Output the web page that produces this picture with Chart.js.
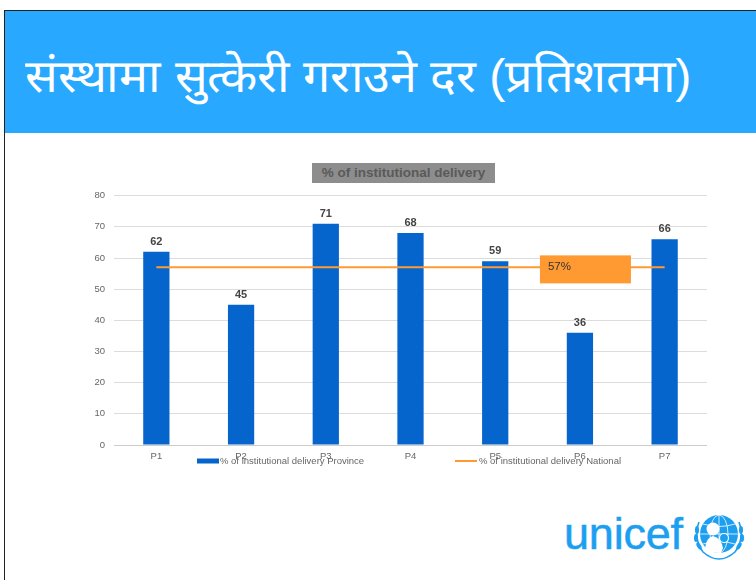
<!DOCTYPE html>
<html>
<head>
<meta charset="utf-8">
<script src="https://cdn.jsdelivr.net/npm/chart.js@4.4.1/dist/chart.umd.min.js"></script>
<style>
  html, body { margin:0; padding:0; background:#fff; width:756px; height:580px; overflow:hidden; font-family:"Liberation Sans", Arial, sans-serif; }
  #frame { position:absolute; left:4px; top:10px; width:800px; height:620px; border:1px solid #222; box-sizing:border-box; }
  #header { position:absolute; left:5px; top:11px; width:760px; height:122px; background:#29a8ff; }
  #htitle { position:absolute; left:20px; top:38px; color:#fff; font-size:46px; white-space:nowrap; line-height:1.2; transform-origin:0 0; transform:scaleX(1.055); }
  #ctitle { position:absolute; left:312px; top:163px; width:183px; height:20px; background:#8d8d8d; color:#5a5a5a; font-weight:bold; font-size:13.5px; line-height:20px; text-align:center; }
  #wrap { position:absolute; left:70px; top:181px; width:637px; height:294px; }
  #logo { position:absolute; left:564px; top:508px; color:#1c9ff0; font-size:45px; font-family:"Liberation Sans", Arial, sans-serif; letter-spacing:-0.2px; -webkit-text-stroke:0.5px #1c9ff0; }
  #emblem { position:absolute; left:691px; top:512px; }
</style>
</head>
<body>
<div id="frame"></div>
<div id="header"><div id="htitle">संस्थामा सुत्केरी गराउने दर (प्रतिशतमा)</div></div>
<div id="ctitle">% of institutional delivery</div>
<div id="wrap"><canvas id="c"></canvas></div>
<div id="logo">unicef</div>
<svg id="emblem" width="56" height="50" viewBox="0 0 56 50">
  <g fill="none" stroke="#1c9ff0" stroke-width="1.6">
    <path d="M8 10 Q2 26 12 40 Q20 47 28 47"/>
    <path d="M48 10 Q54 26 44 40 Q36 47 28 47"/>
  </g>
  <g fill="#1c9ff0">
    <ellipse cx="6" cy="18" rx="2" ry="4"/><ellipse cx="5" cy="26" rx="2" ry="4"/><ellipse cx="8" cy="34" rx="2" ry="4" transform="rotate(-30 8 34)"/>
    <ellipse cx="50" cy="18" rx="2" ry="4"/><ellipse cx="51" cy="26" rx="2" ry="4"/><ellipse cx="48" cy="34" rx="2" ry="4" transform="rotate(30 48 34)"/>
  </g>
  <circle cx="28" cy="22" r="19" fill="#1c9ff0"/>
  <g fill="none" stroke="#fff" stroke-width="0.8">
    <ellipse cx="28" cy="22" rx="9" ry="19"/><line x1="9" y1="22" x2="47" y2="22"/><line x1="28" y1="3" x2="28" y2="41"/>
    <path d="M12 12 Q28 17 44 12"/><path d="M12 32 Q28 27 44 32"/>
  </g>
  <circle cx="22" cy="17" r="6.5" fill="#fff"/>
  <path d="M14 40 Q14 26 22 24 Q30 26 32 36 L30 41 Z" fill="#fff"/>
  <circle cx="33" cy="26" r="4.5" fill="#1c9ff0" stroke="#fff" stroke-width="1.2"/>
</svg>
<script>
const categories = ["P1","P2","P3","P4","P5","P6","P7"];
const provinceValues = [62, 45, 71, 68, 59, 36, 66];
const nationalValues = [57, 57, 57, 57, 57, 57, 57];
const yTicks = [0,10,20,30,40,50,60,70,80];
const seriesLabels = ["% of institutional delivery Province", "% of institutional delivery National"];
const nationalLabel = "57%";
const nationalLabelIndex = 5;

const BLUE = "#0565cc";
const ORANGE = "#ff9a33";

const labelsPlugin = {
  id: "labelsPlugin",
  afterDatasetsDraw(chart) {
    const ctx = chart.ctx;
    const meta0 = chart.getDatasetMeta(1);
    ctx.save();
    ctx.font = "bold 11px 'Liberation Sans', Arial, sans-serif";
    ctx.fillStyle = "#444";
    ctx.textAlign = "center";
    ctx.textBaseline = "alphabetic";
    meta0.data.forEach((bar, i) => {
      ctx.fillText(String(provinceValues[i]), bar.x, bar.y - 7);
    });
    const lm = chart.getDatasetMeta(0);
    const pt = lm.data[nationalLabelIndex];
    const bx = pt.x - 40, by = pt.y - 12, bw = 91, bh = 28;
    ctx.fillStyle = ORANGE;
    ctx.fillRect(bx, by, bw, bh);
    ctx.fillStyle = "#333";
    ctx.font = "11.5px 'Liberation Sans', Arial, sans-serif";
    ctx.textAlign = "left";
    ctx.textBaseline = "middle";
    ctx.fillText(nationalLabel, bx + 8, pt.y - 1);
    ctx.restore();
  },
  afterDraw(chart) {
    const ctx = chart.ctx;
    const ca = chart.chartArea;
    const y = ca.bottom + 16;
    ctx.save();
    ctx.font = "9.5px 'Liberation Sans', Arial, sans-serif";
    ctx.textBaseline = "middle";
    ctx.textAlign = "left";
    const x1 = ca.left + 83;
    ctx.fillStyle = BLUE;
    ctx.fillRect(x1, y - 2.5, 22, 5);
    ctx.fillStyle = "#666";
    ctx.fillText(seriesLabels[0], x1 + 23, y);
    const x2 = ca.left + 341;
    ctx.strokeStyle = ORANGE;
    ctx.lineWidth = 2;
    ctx.beginPath(); ctx.moveTo(x2, y); ctx.lineTo(x2 + 22, y); ctx.stroke();
    ctx.fillText(seriesLabels[1], x2 + 24, y);
    ctx.restore();
  }
};

new Chart(document.getElementById("c"), {
  data: {
    labels: categories,
    datasets: [
      { type: "line", label: seriesLabels[1], data: nationalValues, borderColor: ORANGE, backgroundColor: ORANGE, borderWidth: 2, pointRadius: 0, order: 0 },
      { type: "bar", label: seriesLabels[0], data: provinceValues, backgroundColor: BLUE, barPercentage: 0.31, categoryPercentage: 1.0, order: 1 }
    ]
  },
  options: {
    responsive: true,
    maintainAspectRatio: false,
    animation: false,
    layout: { padding: { top: 6, bottom: 5, left: 0, right: 0 } },
    plugins: { legend: { display: false }, title: { display: false }, tooltip: { enabled: false } },
    scales: {
      x: {
        offset: true,
        grid: { display: false, drawTicks: false },
        border: { display: true, color: "#cccccc" },
        ticks: { color: "#666", font: { size: 9.5, family: "'Liberation Sans', Arial, sans-serif" }, padding: 6 },
        afterFit(s) { s.height = 25; }
      },
      y: {
        min: 0, max: 80,
        afterBuildTicks(s) { s.ticks = yTicks.map(v => ({ value: v })); },
        grid: { color: "#dcdcdc", drawTicks: false },
        border: { display: false },
        ticks: { color: "#666", font: { size: 9.5, family: "'Liberation Sans', Arial, sans-serif" }, padding: 9 },
        afterFit(s) { s.width = 44; }
      }
    }
  },
  plugins: [labelsPlugin]
});
</script>
</body>
</html>
